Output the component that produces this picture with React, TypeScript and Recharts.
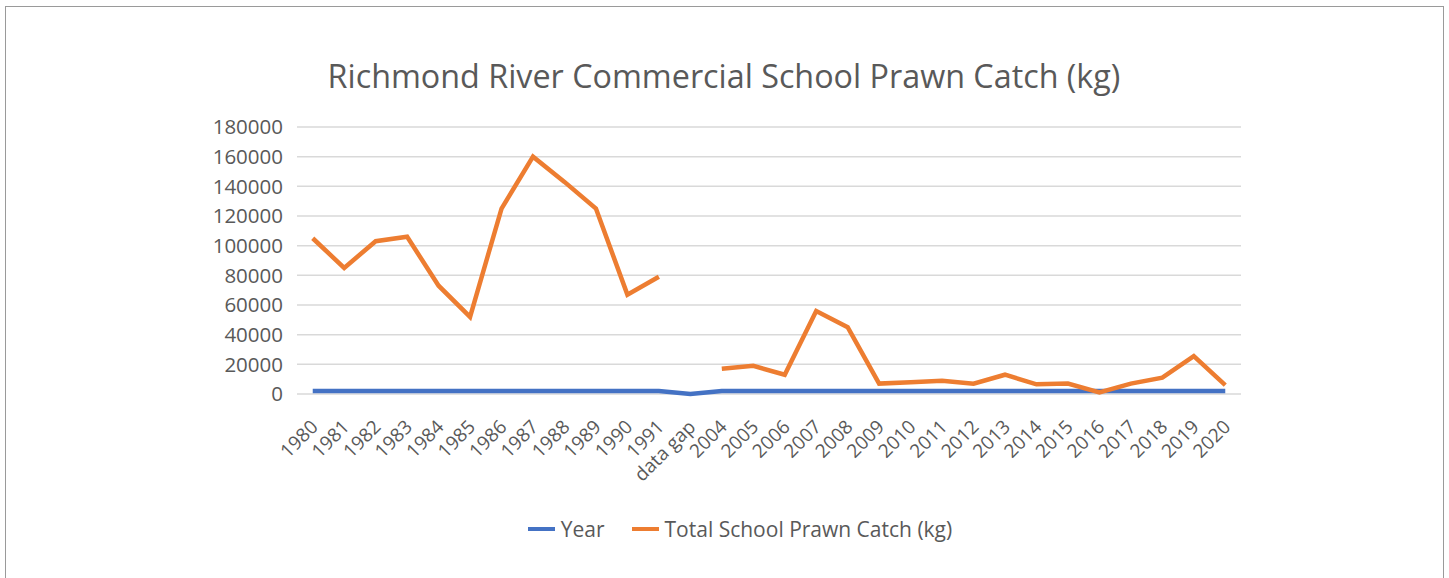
import { LineChart, Line, XAxis, YAxis, CartesianGrid } from "recharts";

const years = [
  "1980", "1981", "1982", "1983", "1984", "1985", "1986", "1987", "1988", "1989", "1990", "1991",
  "data gap",
  "2004", "2005", "2006", "2007", "2008", "2009", "2010", "2011", "2012", "2013", "2014", "2015",
  "2016", "2017", "2018", "2019", "2020",
];

// the "Year" series is just the year number (0 at the gap)
const yearValues = [
  1980, 1981, 1982, 1983, 1984, 1985, 1986, 1987, 1988, 1989, 1990, 1991,
  0,
  2004, 2005, 2006, 2007, 2008, 2009, 2010, 2011, 2012, 2013, 2014, 2015,
  2016, 2017, 2018, 2019, 2020,
];

const catchKg: (number | null)[] = [
  105000, 85000, 103000, 106000, 73000, 52000, 125000, 160000, 143000, 125000, 67000, 79000,
  null,
  17000, 19000, 13000, 56000, 45000, 7000, 8000, 9000, 7000, 13000, 6500, 7000,
  1000, 7000, 11000, 25500, 6000,
];

const yTicks = [0, 20000, 40000, 60000, 80000, 100000, 120000, 140000, 160000, 180000];

const data = years.map((label, i) => ({
  label,
  year: yearValues[i],
  catch: catchKg[i],
}));

const FONT = "'Open Sans', sans-serif";
const TEXT = "#595959";

function AngledTick({ x, y, payload }: any) {
  return (
    <g transform={`translate(${x},${y})`}>
      <text
        x={0}
        y={0}
        dy={23}
        dx={-14}
        textAnchor="end"
        transform="rotate(-45)"
        fill={TEXT}
        fontSize={19}
        fontFamily={FONT}
      >
        {payload.value}
      </text>
    </g>
  );
}

function ChartLegend() {
  const items = [
    { name: "Year", color: "#4472C4" },
    { name: "Total School Prawn Catch (kg)", color: "#ED7D31" },
  ];
  return (
    <div style={{ display: "flex", justifyContent: "center", gap: 27, fontFamily: FONT }}>
      {items.map((it) => (
        <span key={it.name} style={{ display: "flex", alignItems: "center", gap: 6 }}>
          <span style={{ width: 27, height: 4, background: it.color, display: "inline-block" }} />
          <span style={{ color: TEXT, fontSize: 21 }}>{it.name}</span>
        </span>
      ))}
    </div>
  );
}

export default function App() {
  return (
    <div
      style={{
        position: "absolute",
        left: 0,
        top: 0,
        width: 1449,
        height: 578,
        background: "#fff",
        overflow: "hidden",
      }}
    >
      <div
        style={{
          position: "absolute",
          left: 5,
          top: 6,
          width: 1437,
          height: 600,
          border: "1px solid #9a9a9a",
        }}
      />
      <div
        style={{
          position: "absolute",
          left: 0,
          top: 53,
          width: 1448,
          textAlign: "center",
          fontFamily: FONT,
          fontSize: 32.3,
          color: TEXT,
        }}
      >
        Richmond River Commercial School Prawn Catch (kg)
      </div>
      <div style={{ position: "absolute", left: 0, top: 0 }}>
        <LineChart
          width={1449}
          height={578}
          data={data}
          margin={{ top: 127, right: 208, bottom: 104, left: 207 }}
        >
          <CartesianGrid vertical={false} stroke="#D9D9D9" strokeWidth={1.5} />
          <XAxis
            dataKey="label"
            scale="band"
            interval={0}
            axisLine={false}
            tickLine={false}
            height={80}
            tick={<AngledTick />}
          />
          <YAxis
            domain={[0, 180000]}
            ticks={yTicks}
            interval={0}
            axisLine={false}
            tickLine={false}
            width={90}
            tickMargin={8}
            tick={{ fill: TEXT, fontSize: 20.5, fontFamily: FONT }}
          />
          <Line
            dataKey="year"
            name="Year"
            stroke="#4472C4"
            strokeWidth={4.5}
            dot={false}
            isAnimationActive={false}
          />
          <Line
            dataKey="catch"
            name="Total School Prawn Catch (kg)"
            stroke="#ED7D31"
            strokeWidth={4.5}
            dot={false}
            connectNulls={false}
            isAnimationActive={false}
          />
        </LineChart>
      </div>
      <div style={{ position: "absolute", left: 0, top: 515, width: 1480 }}>
        <ChartLegend />
      </div>
    </div>
  );
}
